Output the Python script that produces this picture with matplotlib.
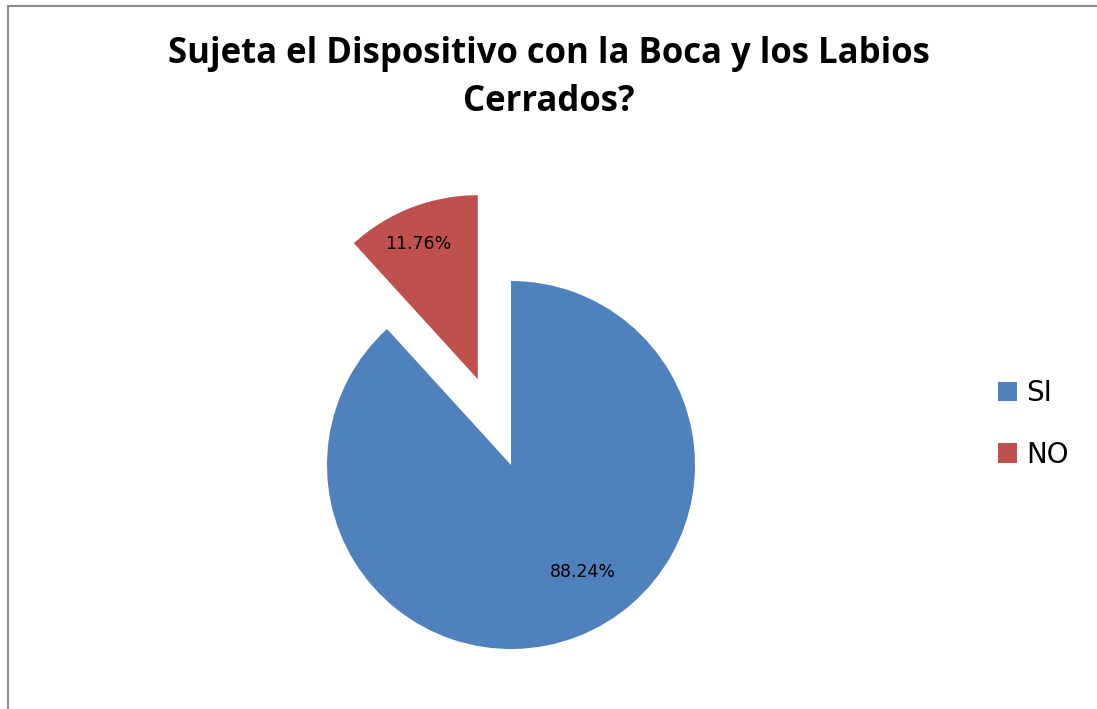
import matplotlib.pyplot as plt
from matplotlib.lines import Line2D
from matplotlib.patches import Patch

# data
categories = ['SI', 'NO']
percentages = [88.24, 11.76]
colors = ['#4F81BD', '#C0504D']

W, H = 1097, 709
fig = plt.figure(figsize=(W / 100, H / 100), dpi=100)

# pie geometry in pixels (radius, centre from top-left)
R = 184
cx, cy = 511, 465
xl = (-1.4, 1.4)
yl = (-1.2, 1.8)
ax = fig.add_axes([(cx + xl[0] * R) / W, (H - cy + yl[0] * R) / H,
                   (xl[1] - xl[0]) * R / W, (yl[1] - yl[0]) * R / H])

wedges, texts, autotexts = ax.pie(percentages, colors=colors, startangle=90,
                                  counterclock=False, explode=[0, 0.5],
                                  autopct='%.2f%%', pctdistance=0.75,
                                  textprops={'fontsize': 12.5, 'color': 'black'},
                                  wedgeprops={'linewidth': 0})
ax.set_aspect('auto')
ax.set_xlim(*xl)
ax.set_ylim(*yl)
ax.axis('off')
autotexts[0].set_position((0.39, -0.58))
autotexts[1].set_position((-0.505, 1.20))

fig.suptitle('Sujeta el Dispositivo con la Boca y los Labios\nCerrados?',
             fontsize=25, fontweight='bold', family='Open Sans',
             y=1 - 36 / H, va='top', linespacing=1.45)

handles = [Patch(facecolor=c, label=l) for c, l in zip(colors, categories)]
fig.legend(handles=handles, loc='center left', bbox_to_anchor=(973 / W, 1 - 424 / H),
           frameon=False, fontsize=20, handlelength=0.7, handleheight=0.7,
           handletextpad=0.3, labelspacing=1.2)

# chart frame (left and top edges visible)
fig.add_artist(Line2D([8 / W, 8 / W], [0, 1 - 6 / H], color='#8c8c8c', lw=1.5))
fig.add_artist(Line2D([8 / W, 1], [1 - 6 / H, 1 - 6 / H], color='#8c8c8c', lw=1.5))

fig.savefig('out.png', dpi=100, facecolor='white')
